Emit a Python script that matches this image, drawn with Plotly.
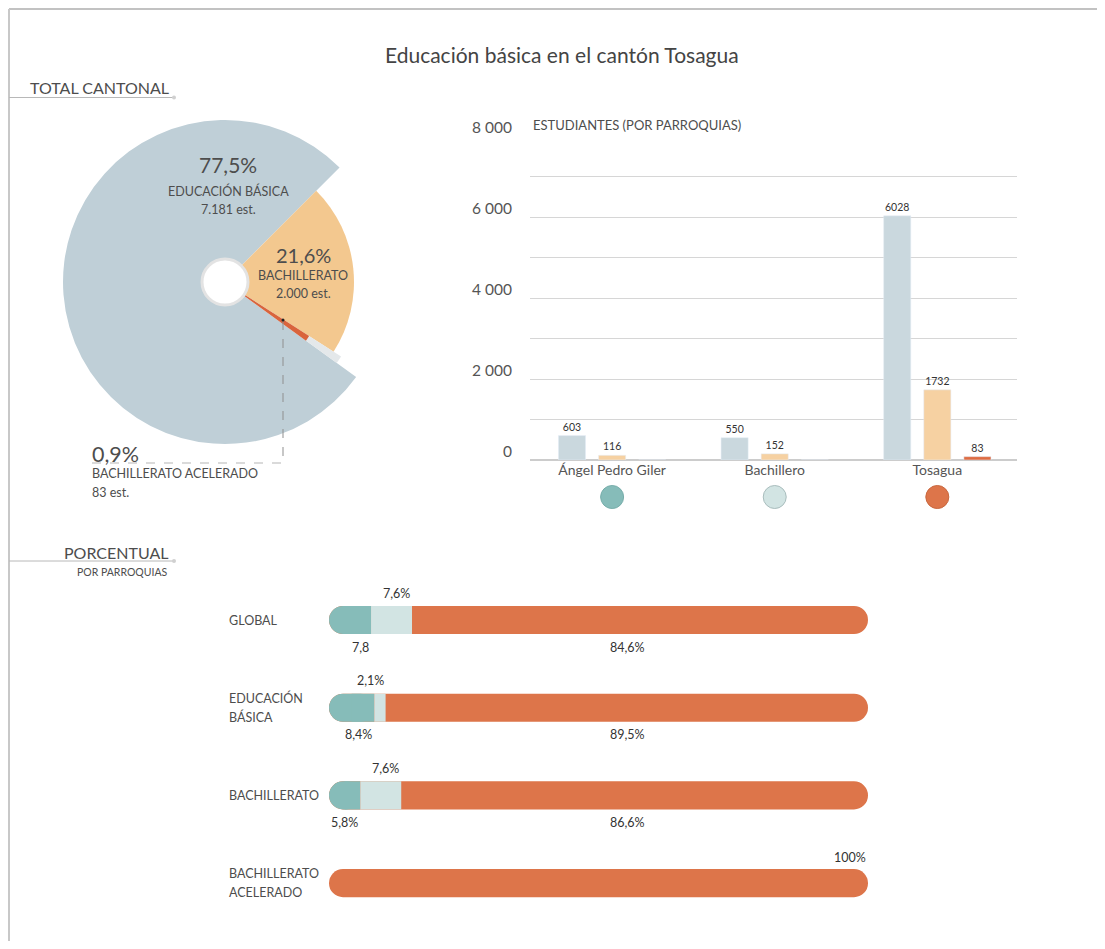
import plotly.graph_objects as go
import numpy as np

# la página tiene 8 px de margen: la figura ocupa 1089 x 933 dentro de 1105 x 949
MARGEN = 8
W, H = 1105 - 2 * MARGEN, 949 - 2 * MARGEN
FUENTE = 'Lato'
TXT = '#4d4d4d'

# --- datos: estudiantes por parroquia ---
parroquias = ['Ángel Pedro Giler', 'Bachillero', 'Tosagua']
educacion_basica = [603, 550, 6028]
bachillerato = [116, 152, 1732]
bachillerato_acelerado = [0, 0, 83]

niveles = ['EDUCACIÓN BÁSICA', 'BACHILLERATO', 'BACHILLERATO ACELERADO']
totales = [sum(educacion_basica), sum(bachillerato), sum(bachillerato_acelerado)]

# --- datos: porcentaje por parroquia ---
filas = ['GLOBAL', 'EDUCACIÓN\nBÁSICA', 'BACHILLERATO', 'BACHILLERATO\nACELERADO']
pct_angel = [7.8, 8.4, 5.8, 0]
pct_bachillero = [7.6, 2.1, 7.6, 0]
pct_tosagua = [84.6, 89.5, 86.6, 100]
txt_angel = ['7,8', '8,4%', '5,8%', '']
txt_bachillero = ['7,6%', '2,1%', '7,6%', '']
txt_tosagua = ['84,6%', '89,5%', '86,6%', '100%']

# colores
AZUL_PIE, NARANJA_PIE, ROJO_PIE, GRIS_TIRA = '#bfcfd7', '#f3c88f', '#d9643c', '#e4e8ea'
AZUL_BAR, NARANJA_BAR, ROJO_BAR = '#cad8de', '#f6d1a2', '#de6c43'
col_parroquia = ['#86bcb9', '#d2e4e3', '#dd754a']


# posiciones en píxeles de la ventana -> coordenadas 'paper'
def px(x):
    return (x - MARGEN) / W


def py(y):
    return 1 - (y - MARGEN) / H


fig = go.Figure()

# ---------------- pastel (radios distintos por nivel) ----------------
cx, cy = 225, 282
orden = [1, 2, 0]  # en sentido horario desde la esquina superior derecha
capas = [(0, 162, AZUL_PIE), (1, 129, NARANJA_PIE), (2, 138, GRIS_TIRA), (2, 100, ROJO_PIE)]
for nivel, r, color in capas:
    colores = ['rgba(0,0,0,0)'] * 3
    colores[orden.index(nivel)] = color
    fig.add_trace(go.Pie(
        values=[totales[k] for k in orden], labels=[niveles[k] for k in orden],
        sort=False, direction='clockwise', rotation=45,
        marker=dict(colors=colores, line=dict(width=0)),
        textinfo='none', hoverinfo='skip', showlegend=False,
        domain=dict(x=[px(cx - r), px(cx + r)], y=[py(cy + r), py(cy - r)])))

# ---------------- barras por parroquia ----------------
for vals, color in [(educacion_basica, AZUL_BAR), (bachillerato, NARANJA_BAR),
                    (bachillerato_acelerado, ROJO_BAR)]:
    fig.add_trace(go.Bar(
        x=parroquias, y=vals, marker_color=color,
        text=[str(v) if v else '' for v in vals], textposition='outside',
        textfont=dict(family=FUENTE, size=10.5, color='#333'), cliponaxis=False,
        constraintext='none', hoverinfo='skip', showlegend=False, xaxis='x', yaxis='y'))

# círculos de parroquia
fig.add_trace(go.Scatter(
    x=parroquias, y=[0, 0, 0], mode='markers', hoverinfo='skip', showlegend=False,
    marker=dict(size=23, color=col_parroquia,
                line=dict(color=['#78aeab', '#a9bdbd', '#c9683f'], width=1)),
    xaxis='x4', yaxis='y4'))

# ---------------- barras porcentuales redondeadas ----------------
# fondo: píldora completa del color final; inicio: píldora del primer tramo;
# tramos: piezas rectas que cuadran las uniones interiores
cats = [f.replace('\n', ' ') for f in filas]
fondo, inicio, tramos = ([], [], [], []), ([], [], [], []), ([], [], [], [])


def poner(dest, cat, base, largo, color):
    for lista, v in zip(dest, (cat, base, largo, color)):
        lista.append(v)


for cat, valores in zip(cats, zip(pct_angel, pct_bachillero, pct_tosagua)):
    segs = [(v, c) for v, c in zip(valores, col_parroquia) if v > 0]
    inicios = np.cumsum([0] + [v for v, _ in segs])
    poner(fondo, cat, 0, inicios[-1], segs[-1][1])
    if len(segs) > 1:
        v0, c0 = segs[0]
        poner(inicio, cat, 0, v0, c0)
        poner(tramos, cat, v0 / 2, v0 / 2, c0)
        for (v, c), b in zip(segs[1:-1], inicios[1:-2]):
            poner(tramos, cat, b, v, c)

for (ys, bases, xs, cs), radio in ((fondo, 14), (inicio, 14), (tramos, 0)):
    fig.add_trace(go.Bar(
        y=ys, x=xs, base=bases, orientation='h', width=0.32, offset=-0.16,
        marker=dict(color=cs, cornerradius=radio, line=dict(width=0)),
        hoverinfo='skip', showlegend=False, xaxis='x3', yaxis='y3'))

anots = []


def texto(x, y, t, size, xanchor='center', xref='paper', yref='paper', yshift=0, color=TXT):
    anots.append(dict(x=x, y=y, text=t, xref=xref, yref=yref, xanchor=xanchor,
                      yanchor='middle', yshift=yshift, showarrow=False,
                      font=dict(family=FUENTE, size=size, color=color)))


# etiquetas de filas y valores
for cat, fila, a, b, ta, tb, tt in zip(cats, filas, pct_angel, pct_bachillero,
                                       txt_angel, txt_bachillero, txt_tosagua):
    lineas = fila.split('\n')
    for j, linea in enumerate(lineas):
        texto(px(227), cat, linea, 12.5, 'left', yref='y3',
              yshift=(len(lineas) - 1) * 9.5 - j * 19)
    if a + b > 0:
        texto(a, cat, ta, 12.5, 'right', 'x3', 'y3', -27, '#333')
        texto(a + b, cat, tb, 12.5, 'right', 'x3', 'y3', 27, '#333')
        texto(55.3, cat, tt, 12.5, 'center', 'x3', 'y3', -27, '#333')
    else:
        texto(100, cat, tt, 12.5, 'right', 'x3', 'y3', 26, '#333')

# textos del pastel
pct = [f'{100 * t / sum(totales):.1f}%'.replace('.', ',') for t in totales]
est = [f'{t:,} est.'.replace(',', '.') for t in totales]
texto(px(228), py(165), pct[0], 21)
texto(px(228), py(191), niveles[0], 12.5)
texto(px(228), py(209), est[0], 12.5)
texto(px(303), py(255), pct[1], 20)
texto(px(303), py(275), niveles[1], 12.5)
texto(px(303), py(293), est[1], 12.5)
texto(px(90), py(454), pct[2], 21.5, 'left')
texto(px(90), py(474), niveles[2], 12.5, 'left')
texto(px(90), py(493), est[2], 12.5, 'left')

# títulos
texto(px(562), py(54), 'Educación básica en el cantón Tosagua', 21, color='#444')
texto(px(28), py(88), 'TOTAL CANTONAL', 16, 'left')
texto(px(170), py(552), 'PORCENTUAL', 16, 'right')
texto(px(170), py(572), 'POR PARROQUIAS', 10.5, 'right')
texto(px(531), py(125), 'ESTUDIANTES (POR PARROQUIAS)', 13, 'left')

LINEA = '#b8b8b8'


def forma(**kw):
    return dict(xref='paper', yref='paper', **kw)


shapes = [
    forma(type='line', x0=px(9), x1=1, y0=py(9), y1=py(9), line=dict(color='#c2c2c2', width=2)),
    forma(type='line', x0=px(9), x1=px(9), y0=py(9), y1=0, line=dict(color='#c8c8c8', width=2)),
    forma(type='line', x0=px(9), x1=px(174), y0=py(97.5), y1=py(97.5), line=dict(color=LINEA, width=1)),
    forma(type='line', x0=px(9), x1=px(174), y0=py(561), y1=py(561), line=dict(color=LINEA, width=1)),
    forma(type='circle', x0=px(172), x1=px(176), y0=py(99.5), y1=py(95.5),
          fillcolor='#d0d0d0', line=dict(width=0)),
    forma(type='circle', x0=px(172), x1=px(176), y0=py(563), y1=py(559),
          fillcolor='#d0d0d0', line=dict(width=0)),
    # hueco central
    forma(type='circle', x0=px(cx - 23), x1=px(cx + 23), y0=py(cy + 23), y1=py(cy - 23),
          fillcolor='white', line=dict(color='#e3e3e3', width=3)),
    # guía de la etiqueta 0,9%
    forma(type='line', x0=px(283), x1=px(283), y0=py(321), y1=py(463),
          line=dict(color='#8f8f8f', width=1, dash='dash')),
    forma(type='line', x0=px(92), x1=px(283), y0=py(463), y1=py(463),
          line=dict(color='#b5b5b5', width=1, dash='dash')),
    forma(type='circle', x0=px(281.5), x1=px(284.5), y0=py(321.5), y1=py(318.5),
          fillcolor='#222', line=dict(width=0)),
]

GRID = '#d6d6d6'
TRANSP = 'rgba(0,0,0,0)'
fig.update_layout(
    width=W, height=H, margin=dict(l=0, r=0, t=0, b=0, autoexpand=False),
    paper_bgcolor='white', plot_bgcolor=TRANSP,
    font=dict(family=FUENTE, color=TXT), separators=', ',
    modebar=dict(bgcolor=TRANSP, color=TRANSP, activecolor=TRANSP),
    barmode='group', bargap=0.26, bargroupgap=0.325,
    annotations=anots, shapes=shapes,
    xaxis=dict(domain=[px(530), px(1017)], range=[-0.505, 2.49], type='category',
               categoryarray=parroquias, showgrid=False, showline=False, ticks='',
               tickfont=dict(size=14, color='#555'), anchor='y', fixedrange=True,
               automargin=False),
    yaxis=dict(domain=[py(460), py(135.6)], range=[0, 8010], dtick=2000, tickformat=',',
               showgrid=True, gridcolor=GRID, gridwidth=1,
               minor=dict(dtick=1000, showgrid=True, gridcolor=GRID, gridwidth=1),
               zeroline=True, zerolinecolor='#cccccc', zerolinewidth=1.5,
               showline=False, ticks='', ticklabelshift=-8, ticklabelstandoff=17,
               tickfont=dict(size=15.5, color='#555'), anchor='x', fixedrange=True,
               automargin=False),
    xaxis3=dict(domain=[px(329), px(868)], range=[0, 100], visible=False, anchor='y3'),
    yaxis3=dict(domain=[py(913.8), py(589.3)], type='category', categoryarray=cats,
                range=[3.35, -0.35], visible=False, anchor='x3'),
    xaxis4=dict(domain=[px(530), px(1017)], range=[-0.505, 2.49], type='category',
                categoryarray=parroquias, visible=False, anchor='y4'),
    yaxis4=dict(domain=[py(510), py(484)], range=[-1, 1], visible=False, anchor='x4'),
)

fig.write_html('out.html')
